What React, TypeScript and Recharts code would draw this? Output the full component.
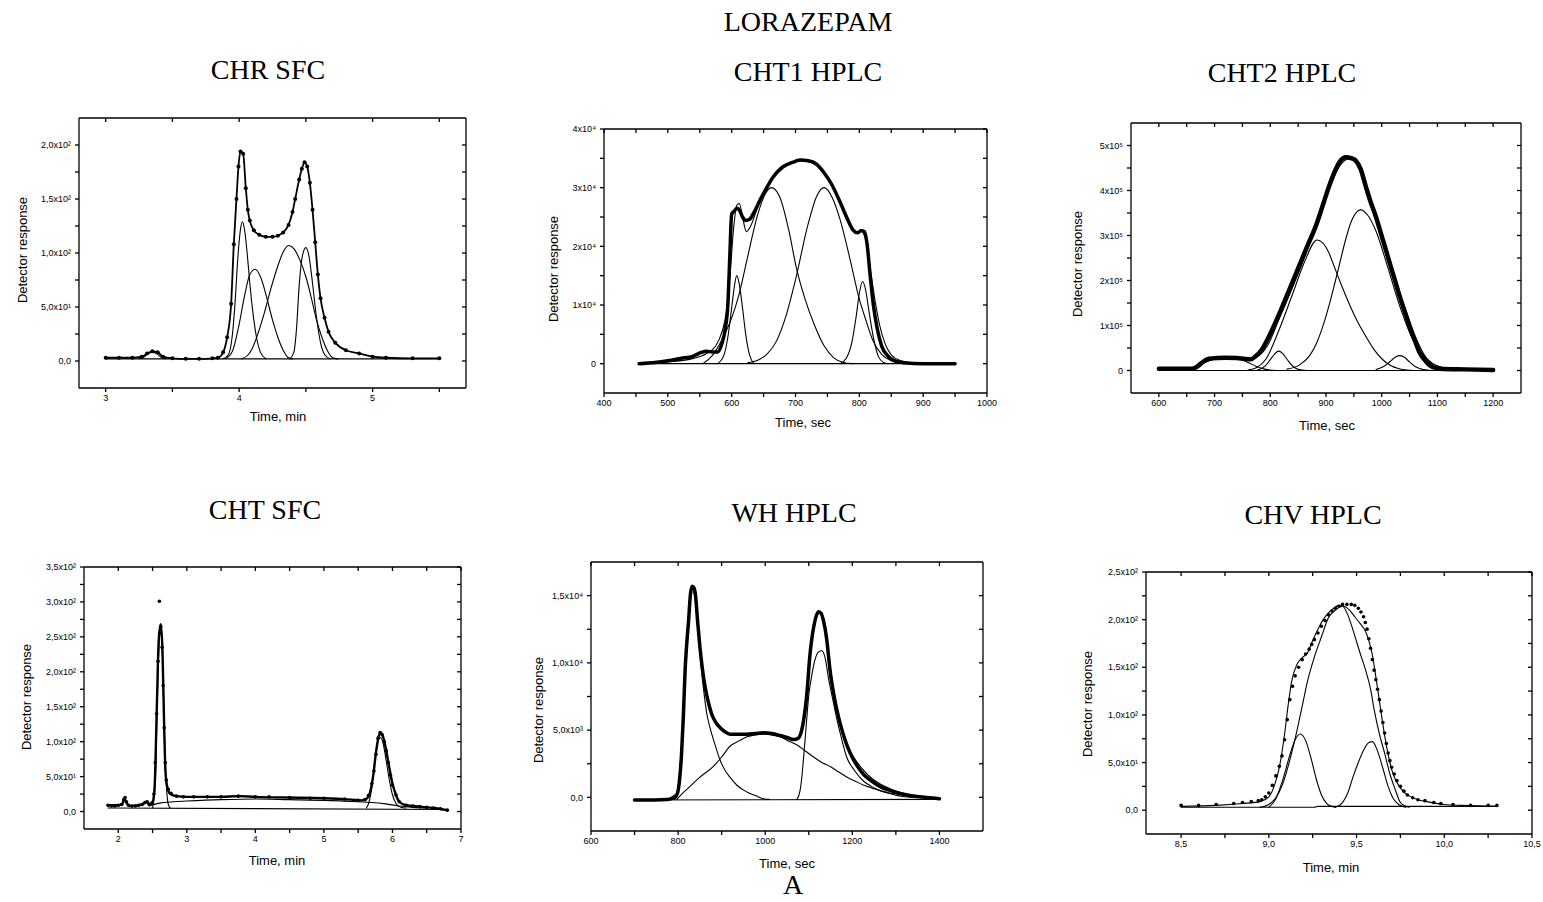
import { Line, LineChart, XAxis, YAxis } from "recharts";

type Pt = [number, number];

const SERIF = '"Liberation Serif", "Times New Roman", serif';
const SANS = '"Liberation Sans", Arial, sans-serif';

// ---------- CHR SFC (time in min) ----------
const chrExp: Pt[] = [
    [3.0, 3], [3.1, 3], [3.2, 3], [3.27, 4], [3.31, 7], [3.35, 9], [3.39, 8], [3.43, 4],
    [3.5, 2.5], [3.6, 2], [3.7, 2], [3.8, 2.5], [3.84, 3], [3.88, 8], [3.91, 22], [3.94, 53],
    [3.96, 108], [3.98, 150], [3.995, 180], [4.01, 194], [4.03, 192], [4.05, 160], [4.065, 140],
    [4.08, 130], [4.11, 121], [4.15, 117], [4.2, 115], [4.25, 115], [4.29, 116], [4.33, 119],
    [4.37, 126], [4.4, 138], [4.42, 150], [4.45, 168], [4.47, 178], [4.49, 184], [4.51, 180],
    [4.53, 165], [4.55, 140], [4.57, 110], [4.59, 80], [4.61, 58], [4.64, 40], [4.67, 27],
    [4.72, 17], [4.8, 10], [4.9, 7], [5.0, 4], [5.1, 3], [5.3, 2.5], [5.5, 2.5],
];
const chrC0: Pt[] = [[3.25, 2], [3.29, 4], [3.32, 7], [3.35, 8], [3.38, 7], [3.41, 4], [3.45, 2]];
const chrC1: Pt[] = [
    [3.88, 2], [3.92, 6], [3.95, 25], [3.97, 55], [3.99, 95], [4.01, 122], [4.025, 129], [4.04, 122],
    [4.06, 100], [4.08, 72], [4.1, 48], [4.13, 22], [4.16, 8], [4.2, 2],
];
const chrC2: Pt[] = [
    [3.9, 2], [3.95, 9], [4.0, 34], [4.04, 60], [4.08, 80], [4.12, 85], [4.16, 78], [4.2, 62],
    [4.25, 38], [4.29, 22], [4.33, 10], [4.37, 3], [4.4, 2],
];
const chrC3: Pt[] = [
    [4.02, 2], [4.07, 6], [4.1, 12], [4.14, 25], [4.19, 45], [4.24, 68], [4.29, 88], [4.33, 101],
    [4.37, 107], [4.41, 104], [4.45, 95], [4.5, 78], [4.54, 59], [4.58, 38], [4.62, 22], [4.66, 10],
    [4.7, 3], [4.74, 2],
];
const chrC4: Pt[] = [
    [4.38, 2], [4.41, 8], [4.43, 30], [4.45, 70], [4.475, 98], [4.5, 105], [4.525, 96], [4.55, 72],
    [4.58, 40], [4.61, 17], [4.64, 6], [4.68, 2],
];
const chrBase: Pt[] = [[3.0, 2], [5.5, 2]];
const chrXTicks = [3, 4, 5];
const chrXLabels = ["3", "4", "5"];
const chrXMinor = [3.5, 4.5, 5.5];
const chrYTicks = [0, 50, 100, 150, 200];
const chrYLabels = ["0,0", "5,0x10¹", "1,0x10²", "1,5x10²", "2,0x10²"];
const chrYMinor = [25, 75, 125, 175];

// ---------- CHT1 HPLC (time in sec) ----------
const cht1Exp: Pt[] = [
    [455, 0], [480, 200], [500, 500], [520, 900], [540, 1300], [552, 1900], [560, 2100], [570, 2000],
    [578, 2000], [585, 3500], [590, 6000], [594, 10000], [597, 18000], [600, 25500], [604, 26000],
    [608, 26500], [612, 26200], [617, 25000], [622, 24400], [628, 24600], [635, 25800], [645, 28000],
    [655, 30000], [665, 31800], [680, 33500], [695, 34300], [707, 34700], [720, 34600], [733, 34000],
    [745, 32500], [757, 30500], [770, 27500], [782, 24500], [790, 22800], [797, 22300], [803, 22700],
    [808, 22500], [812, 20500], [817, 15000], [822, 10000], [828, 6000], [835, 3000], [845, 1300],
    [855, 500], [870, 150], [900, 0], [950, 0],
];
const cht1Fit: Pt[] = [
    [455, 0], [500, 300], [540, 900], [560, 1700], [575, 3000], [585, 5500], [592, 9000], [598, 16000],
    [603, 23000], [608, 27000], [612, 27300], [617, 25000], [623, 22500], [630, 23500], [640, 26500],
    [650, 29000], [665, 32000], [680, 33800], [695, 34300], [710, 34600], [725, 34300], [740, 33000],
    [755, 30800], [770, 27600], [785, 23500], [795, 22300], [803, 22600], [810, 21000], [818, 15500],
    [825, 10500], [832, 6500], [840, 3500], [850, 1500], [865, 500], [885, 100], [930, 0],
];
const cht1C1: Pt[] = [
    [578, 0], [588, 1500], [594, 4500], [600, 9500], [604, 13000], [608, 15000], [612, 13500],
    [617, 9500], [622, 5000], [628, 1500], [635, 0],
];
const cht1C2: Pt[] = [
    [555, 0], [570, 1400], [589, 5000], [600, 7800], [612, 12000], [625, 18200], [640, 25100],
    [652, 28800], [662, 30000], [675, 28500], [690, 22500], [701, 16500], [715, 11000], [730, 6500],
    [745, 3000], [760, 1000], [775, 200], [790, 0],
];
const cht1C3: Pt[] = [
    [625, 150], [640, 550], [655, 1600], [670, 3800], [685, 8100], [700, 14300], [720, 23900],
    [733, 28500], [745, 30000], [758, 28200], [770, 24500], [785, 18000], [800, 11000], [810, 7500],
    [821, 4000], [835, 1600], [850, 500], [870, 0],
];
const cht1C4: Pt[] = [
    [770, 0], [780, 1000], [788, 3500], [795, 8000], [800, 12000], [805, 14000], [810, 12500],
    [815, 9000], [822, 4500], [830, 1200], [838, 200], [845, 0],
];
const cht1Base: Pt[] = [[455, 0], [950, 0]];
const cht1XTicks = [400, 500, 600, 700, 800, 900, 1000];
const cht1XLabels = ["400", "500", "600", "700", "800", "900", "1000"];
const cht1XMinor = [450, 550, 650, 750, 850, 950];
const cht1YTicks = [0, 10000, 20000, 30000, 40000];
const cht1YLabels = ["0", "1x10⁴", "2x10⁴", "3x10⁴", "4x10⁴"];
const cht1YMinor = [5000, 15000, 25000, 35000];

// ---------- CHT2 HPLC (time in sec) ----------
const cht2Exp: Pt[] = [
    [600, 4000], [660, 4000], [668, 8000], [673, 13000], [680, 20000], [690, 26000], [705, 28000],
    [720, 28500], [740, 28000], [755, 25500], [765, 25000], [774, 32000], [784, 45000], [792, 62000],
    [805, 95000], [822, 143000], [837, 188000], [852, 233000], [867, 278000], [882, 322000],
    [895, 370000], [906, 411000], [915, 440000], [924, 463000], [936, 474000], [945, 472000],
    [953, 467000], [962, 448000], [971, 411000], [980, 375000], [989, 344000], [998, 307000],
    [1007, 270000], [1016, 232000], [1025, 195000], [1034, 158000], [1043, 125000], [1052, 90000],
    [1061, 62000], [1068, 40000], [1076, 25000], [1084, 14000], [1091, 8000], [1105, 4000],
    [1150, 2500], [1200, 1000],
];
const cht2Fit: Pt[] = [
    [600, 3000], [665, 5000], [680, 16000], [700, 25000], [720, 27500], [745, 27000], [765, 26000],
    [780, 33000], [795, 55000], [816, 115000], [840, 185000], [861, 250000], [884, 330000],
    [906, 405000], [925, 455000], [940, 470000], [955, 463000], [971, 415000], [990, 340000],
    [1010, 262000], [1030, 180000], [1050, 110000], [1065, 62000], [1080, 28000], [1095, 10000],
    [1120, 3000], [1200, 1000],
];
const cht2C0: Pt[] = [
    [655, 0], [665, 2000], [672, 8000], [685, 20000], [700, 26000], [720, 27500], [740, 26000],
    [760, 18000], [775, 9000], [790, 3000], [805, 500], [820, 0],
];
const cht2C1: Pt[] = [
    [775, 0], [790, 9000], [800, 24000], [808, 37000], [815, 43000], [822, 38000], [830, 25000],
    [840, 10000], [852, 2000], [865, 0],
];
const cht2C2: Pt[] = [
    [760, 1000], [775, 6000], [792, 25000], [816, 91000], [840, 170000], [861, 240000], [884, 290000],
    [905, 262000], [912, 240000], [926, 195000], [941, 150000], [956, 110000], [971, 77000],
    [986, 47000], [1001, 25000], [1016, 11000], [1031, 4000], [1045, 1000], [1060, 0],
];
const cht2C3: Pt[] = [
    [830, 3000], [852, 12000], [870, 32000], [882, 58000], [894, 97000], [906, 147000], [916, 195000],
    [925, 240000], [935, 290000], [945, 330000], [955, 352000], [962, 357000], [975, 345000],
    [990, 309000], [1010, 233000], [1030, 152000], [1050, 85000], [1070, 41000], [1090, 17000],
    [1110, 6000], [1130, 1000],
];
const cht2C4: Pt[] = [
    [990, 2000], [1005, 10000], [1015, 20000], [1025, 30000], [1032, 33000], [1040, 30000],
    [1050, 19000], [1060, 9000], [1075, 2000], [1090, 0],
];
const cht2Base: Pt[] = [[600, 0], [1200, 0]];
const cht2XTicks = [600, 700, 800, 900, 1000, 1100, 1200];
const cht2XLabels = ["600", "700", "800", "900", "1000", "1100", "1200"];
const cht2XMinor = [650, 750, 850, 950, 1050, 1150];
const cht2YTicks = [0, 100000, 200000, 300000, 400000, 500000];
const cht2YLabels = ["0", "1x10⁵", "2x10⁵", "3x10⁵", "4x10⁵", "5x10⁵"];
const cht2YMinor = [50000, 150000, 250000, 350000, 450000];

// ---------- CHT SFC (time in min) ----------
const chtExp: Pt[] = [
    [1.85, 9], [1.9, 8], [1.95, 8], [2.0, 9], [2.05, 10], [2.08, 17], [2.1, 20], [2.12, 14], [2.15, 9],
    [2.2, 8], [2.25, 8], [2.3, 9], [2.35, 10], [2.39, 13], [2.42, 14], [2.45, 10], [2.49, 12],
    [2.52, 25], [2.54, 70], [2.56, 140], [2.58, 215], [2.6, 301], [2.605, 255], [2.62, 265],
    [2.64, 235], [2.655, 180], [2.67, 120], [2.685, 70], [2.7, 45], [2.73, 32], [2.77, 26],
    [2.85, 22], [2.95, 21], [3.1, 21], [3.3, 21], [3.5, 21], [3.75, 22], [4.0, 21], [4.2, 21],
    [4.5, 20], [4.8, 19], [5.0, 19], [5.3, 18], [5.5, 16], [5.6, 17], [5.65, 23], [5.7, 40],
    [5.73, 58], [5.76, 82], [5.79, 105], [5.82, 113], [5.85, 110], [5.88, 100], [5.91, 87],
    [5.94, 70], [5.97, 52], [6.0, 38], [6.05, 24], [6.1, 14], [6.2, 9], [6.3, 8], [6.4, 7],
    [6.5, 6], [6.6, 5], [6.7, 4], [6.8, 2],
];
const chtFit: Pt[] = [
    [1.85, 9], [2.0, 9], [2.06, 11], [2.09, 19], [2.12, 12], [2.18, 8], [2.3, 9], [2.38, 12],
    [2.42, 14], [2.46, 10], [2.5, 13], [2.53, 35], [2.56, 140], [2.59, 245], [2.62, 268],
    [2.645, 230], [2.67, 120], [2.69, 55], [2.72, 33], [2.76, 25], [2.85, 22], [3.0, 21], [3.5, 21],
    [3.75, 22], [4.0, 21], [4.5, 20], [5.0, 19], [5.4, 17], [5.55, 16], [5.63, 19], [5.68, 30],
    [5.72, 52], [5.76, 85], [5.8, 108], [5.83, 113], [5.86, 108], [5.9, 92], [5.95, 65], [6.0, 40],
    [6.05, 24], [6.1, 14], [6.2, 9], [6.4, 7], [6.6, 5], [6.8, 2],
];
const chtP1: Pt[] = [
    [2.5, 5], [2.54, 40], [2.57, 160], [2.6, 250], [2.62, 266], [2.64, 240], [2.67, 120], [2.7, 40],
    [2.73, 10], [2.76, 5],
];
const chtBroad: Pt[] = [
    [2.45, 8], [2.6, 12], [2.8, 14], [3.0, 15], [3.5, 17], [4.0, 18], [4.5, 17], [5.0, 16], [5.5, 14],
    [5.7, 13], [5.9, 11], [6.1, 8], [6.3, 6], [6.5, 5],
];
const chtP2: Pt[] = [
    [5.62, 5], [5.66, 14], [5.7, 35], [5.74, 70], [5.78, 98], [5.82, 106], [5.86, 99], [5.9, 78],
    [5.95, 48], [6.0, 24], [6.05, 12], [6.12, 6], [6.2, 5],
];
const chtBase: Pt[] = [[1.85, 5], [6.8, 3]];
const chtXTicks = [2, 3, 4, 5, 6, 7];
const chtXLabels = ["2", "3", "4", "5", "6", "7"];
const chtXMinor = [2.5, 3.5, 4.5, 5.5, 6.5];
const chtYTicks = [0, 50, 100, 150, 200, 250, 300, 350];
const chtYLabels = ["0,0", "5,0x10¹", "1,0x10²", "1,5x10²", "2,0x10²", "2,5x10²", "3,0x10²", "3,5x10²"];
const chtYMinor = [25, 75, 125, 175, 225, 275, 325];

// ---------- WH HPLC (time in sec) ----------
const whExp: Pt[] = [
    [700, -200], [775, -150], [797, 200], [803, 1200], [808, 3300], [812, 6000], [816, 9400],
    [820, 11500], [824, 13100], [828, 15000], [832, 15700], [836, 15600], [840, 15000], [845, 13000],
    [850, 11200], [856, 9500], [862, 8200], [870, 7000], [877, 6200], [886, 5600], [896, 5200],
    [907, 4900], [919, 4700], [940, 4700], [958, 4700], [977, 4750], [996, 4800], [1015, 4750],
    [1034, 4600], [1050, 4450], [1065, 4300], [1076, 4400], [1083, 4900], [1088, 5700], [1095, 7500],
    [1103, 10700], [1112, 12800], [1122, 13800], [1128, 13700], [1134, 13100], [1141, 11800],
    [1149, 9400], [1160, 7200], [1172, 5500], [1184, 4200], [1195, 3300], [1210, 2400], [1226, 1700],
    [1245, 1200], [1264, 800], [1283, 550], [1302, 350], [1320, 220], [1340, 100], [1370, 0],
    [1400, -100],
];
const whFit: Pt[] = [
    [700, -200], [790, -150], [800, 800], [808, 3300], [816, 9400], [824, 13100], [832, 15500],
    [840, 14800], [850, 11000], [862, 8000], [877, 6100], [896, 5200], [919, 4700], [958, 4650],
    [996, 4750], [1034, 4550], [1065, 4250], [1078, 4400], [1088, 5600], [1097, 8000], [1106, 11200],
    [1116, 13200], [1125, 13700], [1134, 13000], [1145, 10800], [1155, 8400], [1164, 6800],
    [1175, 5300], [1187, 4000], [1207, 2800], [1226, 2000], [1245, 1400], [1264, 1000], [1283, 700],
    [1302, 450], [1340, 150], [1378, 0], [1400, -100],
];
const whC1: Pt[] = [
    [790, -150], [797, 0], [805, 2500], [812, 6000], [820, 11500], [828, 15000], [833, 15500],
    [838, 15000], [845, 12700], [852, 10000], [860, 7600], [866, 6200], [873, 5200], [885, 3900],
    [896, 2800], [908, 2000], [919, 1500], [935, 900], [958, 400], [980, 100], [996, -100], [1010, -150],
];
const whC2: Pt[] = [
    [797, -150], [810, 300], [827, 800], [850, 1500], [881, 2300], [900, 3000], [919, 3800],
    [940, 4200], [958, 4500], [977, 4650], [996, 4700], [1015, 4650], [1034, 4500], [1053, 4200],
    [1073, 3900], [1092, 3450], [1111, 3000], [1130, 2600], [1149, 2300], [1168, 1900], [1188, 1500],
    [1207, 1200], [1226, 900], [1245, 700], [1264, 500], [1283, 350], [1302, 250], [1340, 100],
    [1378, 0],
];
const whC3: Pt[] = [
    [1073, -150], [1080, 500], [1084, 1500], [1090, 3700], [1095, 5700], [1100, 7600], [1106, 8900],
    [1114, 10200], [1122, 10800], [1130, 10900], [1138, 10300], [1145, 8900], [1155, 7300],
    [1164, 5900], [1175, 4400], [1187, 3000], [1205, 2000], [1226, 1200], [1245, 800], [1264, 500],
    [1283, 300], [1302, 150], [1320, 50], [1340, 0],
];
const whBase: Pt[] = [[700, -200], [1400, -150]];
const whXTicks = [600, 800, 1000, 1200, 1400];
const whXLabels = ["600", "800", "1000", "1200", "1400"];
const whXMinor = [700, 900, 1100, 1300];
const whYTicks = [0, 5000, 10000, 15000];
const whYLabels = ["0,0", "5,0x10³", "1,0x10⁴", "1,5x10⁴"];
const whYMinor = [2500, 7500, 12500];

// ---------- CHV HPLC (time in min) ----------
const chvExp: Pt[] = [
    [8.5, 5], [8.6, 5], [8.7, 6], [8.8, 7], [8.85, 8], [8.9, 9], [8.94, 10], [8.96, 11], [8.98, 14],
    [9.0, 18], [9.02, 26], [9.04, 36], [9.06, 46], [9.075, 57], [9.09, 74], [9.105, 95], [9.12, 116],
    [9.135, 130], [9.15, 141], [9.17, 150], [9.19, 158], [9.21, 164], [9.23, 169], [9.245, 174],
    [9.26, 179], [9.28, 186], [9.3, 193], [9.32, 199], [9.34, 205], [9.36, 209], [9.38, 212],
    [9.4, 214], [9.42, 216], [9.445, 216], [9.47, 216], [9.49, 215], [9.51, 212], [9.525, 208],
    [9.54, 203], [9.55, 197], [9.56, 190], [9.57, 180], [9.58, 170], [9.59, 158], [9.6, 147],
    [9.61, 137], [9.62, 127], [9.63, 116], [9.64, 104], [9.65, 92], [9.66, 81], [9.67, 70],
    [9.68, 60], [9.69, 52], [9.7, 45], [9.715, 38], [9.73, 31], [9.75, 25], [9.77, 20], [9.79, 16],
    [9.82, 13], [9.85, 11], [9.89, 10], [9.94, 8], [9.98, 7], [10.05, 6], [10.15, 5], [10.25, 5],
    [10.3, 5],
];
const chvFit: Pt[] = [
    [8.5, 4], [8.7, 5], [8.85, 7], [8.95, 9], [9.0, 14], [9.03, 25], [9.06, 45], [9.09, 80],
    [9.11, 110], [9.13, 135], [9.16, 153], [9.19, 160], [9.22, 165], [9.25, 178], [9.28, 190],
    [9.31, 200], [9.34, 207], [9.37, 212], [9.4, 215], [9.43, 214], [9.46, 210], [9.49, 203],
    [9.52, 196], [9.55, 188], [9.57, 178], [9.59, 163], [9.61, 140], [9.63, 115], [9.65, 90],
    [9.67, 68], [9.69, 50], [9.71, 37], [9.74, 26], [9.77, 19], [9.8, 15], [9.85, 11], [9.9, 9],
    [10.0, 6], [10.1, 5], [10.3, 4],
];
const chvC1: Pt[] = [
    [9.0, 3], [9.04, 12], [9.08, 32], [9.12, 58], [9.15, 74], [9.18, 80], [9.21, 73], [9.24, 55],
    [9.27, 33], [9.3, 16], [9.33, 7], [9.36, 4], [9.38, 3],
];
const chvC2: Pt[] = [
    [8.95, 3], [9.0, 6], [9.04, 13], [9.08, 28], [9.11, 46], [9.15, 75], [9.19, 109], [9.22, 135],
    [9.26, 161], [9.3, 182], [9.34, 202], [9.38, 210], [9.42, 214], [9.45, 205], [9.49, 183],
    [9.52, 165], [9.55, 148], [9.58, 127], [9.6, 106], [9.63, 80], [9.66, 60], [9.69, 38],
    [9.72, 22], [9.75, 8], [9.78, 4], [9.8, 3],
];
const chvC3: Pt[] = [
    [9.38, 3], [9.42, 8], [9.45, 18], [9.48, 35], [9.51, 50], [9.54, 63], [9.57, 71], [9.59, 72],
    [9.62, 62], [9.65, 44], [9.68, 25], [9.71, 12], [9.74, 6], [9.78, 3],
];
const chvBase: Pt[] = [[8.5, 3], [9.26, 3], [9.28, 4], [10.3, 4]];
const chvXTicks = [8.5, 9.0, 9.5, 10.0, 10.5];
const chvXLabels = ["8,5", "9,0", "9,5", "10,0", "10,5"];
const chvXMinor = [8.75, 9.25, 9.75, 10.25];
const chvYTicks = [0, 50, 100, 150, 200, 250];
const chvYLabels = ["0,0", "5,0x10¹", "1,0x10²", "1,5x10²", "2,0x10²", "2,5x10²"];
const chvYMinor = [25, 75, 125, 175, 225];

type Kind = "thin" | "thick" | "dots" | "dotline";
type Series = { pts: Pt[]; kind: Kind; w?: number };

type PanelSpec = {
    title: string;
    tx: number;
    ty: number;
    frame: [number, number, number, number];
    xDomain: [number, number];
    yDomain: [number, number];
    xMajor: number[];
    xLabels: string[];
    xMinor: number[];
    yMajor: number[];
    yLabels: string[];
    yMinor: number[];
    xTitle: string;
    xtx: number;
    xty: number;
    ytx: number;
    yty: number;
    series: Series[];
};

const toRows = (a: Pt[]) => a.map(([x, y]) => ({ x, y }));

const fmt = (major: number[], labels: string[]) => (v: number) => {
    const i = major.findIndex((m) => Math.abs(m - v) < 1e-6);
    return i < 0 ? "" : labels[i];
};

const tickFont = { fill: "#000", fontSize: 9, fontFamily: SANS };
const axisStroke = { stroke: "#000", strokeWidth: 1.3 };

function Panel({ p }: { p: PanelSpec }) {
    const [L, T, R, B] = p.frame;
    const yW = 70;
    const xH = 22;
    const padR = 20;
    const xt = [...p.xMajor, ...p.xMinor].sort((a, b) => a - b);
    const yt = [...p.yMajor, ...p.yMinor].sort((a, b) => a - b);

    return (
        <>
            <div style={{ position: "absolute", left: L - yW, top: T - 8 }}>
                <LineChart
                    width={R - L + yW + padR + 1}
                    height={B - T + 8 + xH}
                    margin={{ top: 7, right: padR, bottom: 0, left: 0 }}
                >
                    <XAxis
                        xAxisId="b"
                        type="number"
                        dataKey="x"
                        domain={p.xDomain}
                        allowDataOverflow
                        ticks={xt}
                        interval={0}
                        tickFormatter={fmt(p.xMajor, p.xLabels)}
                        height={xH}
                        tickSize={4}
                        tickMargin={3}
                        axisLine={axisStroke}
                        tickLine={axisStroke}
                        tick={tickFont}
                    />
                    <XAxis
                        xAxisId="t"
                        orientation="top"
                        type="number"
                        dataKey="x"
                        domain={p.xDomain}
                        allowDataOverflow
                        ticks={xt}
                        interval={0}
                        tickFormatter={() => ""}
                        height={1}
                        tickSize={-4}
                        axisLine={axisStroke}
                        tickLine={axisStroke}
                    />
                    <YAxis
                        yAxisId="l"
                        type="number"
                        domain={p.yDomain}
                        allowDataOverflow
                        ticks={yt}
                        interval={0}
                        tickFormatter={fmt(p.yMajor, p.yLabels)}
                        width={yW}
                        tickSize={4}
                        tickMargin={4}
                        axisLine={axisStroke}
                        tickLine={axisStroke}
                        tick={tickFont}
                    />
                    <YAxis
                        yAxisId="r"
                        orientation="right"
                        type="number"
                        domain={p.yDomain}
                        allowDataOverflow
                        ticks={yt}
                        interval={0}
                        tickFormatter={() => ""}
                        width={1}
                        tickSize={-4}
                        axisLine={axisStroke}
                        tickLine={axisStroke}
                    />
                    {p.series.map((s, i) => {
                        const common = {
                            xAxisId: "b",
                            yAxisId: "l",
                            data: toRows(s.pts),
                            dataKey: "y",
                            type: "monotone" as const,
                            isAnimationActive: false,
                            activeDot: false,
                            strokeLinejoin: "round" as const,
                            strokeLinecap: "round" as const,
                        };
                        if (s.kind === "dots") {
                            return (
                                <Line
                                    key={i}
                                    {...common}
                                    stroke="none"
                                    dot={{ r: 1.8, fill: "#000", stroke: "none" }}
                                />
                            );
                        }
                        if (s.kind === "dotline") {
                            return (
                                <Line
                                    key={i}
                                    {...common}
                                    stroke="#000"
                                    strokeWidth={1.8}
                                    dot={{ r: 2, fill: "#000", stroke: "none" }}
                                />
                            );
                        }
                        return (
                            <Line
                                key={i}
                                {...common}
                                stroke="#000"
                                strokeWidth={s.kind === "thick" ? s.w ?? 3.5 : 1.1}
                                dot={false}
                            />
                        );
                    })}
                </LineChart>
            </div>
            <div
                style={{
                    position: "absolute",
                    left: p.tx,
                    top: p.ty,
                    transform: "translate(-50%, -50%)",
                    fontFamily: SERIF,
                    fontSize: 28,
                    whiteSpace: "nowrap",
                    lineHeight: 1,
                }}
            >
                {p.title}
            </div>
            <div
                style={{
                    position: "absolute",
                    left: p.xtx,
                    top: p.xty,
                    transform: "translate(-50%, -50%)",
                    fontFamily: SANS,
                    fontSize: 13,
                    whiteSpace: "nowrap",
                    lineHeight: 1,
                }}
            >
                {p.xTitle}
            </div>
            <div
                style={{
                    position: "absolute",
                    left: p.ytx,
                    top: p.yty,
                    transform: "translate(-50%, -50%) rotate(-90deg)",
                    fontFamily: SANS,
                    fontSize: 13,
                    whiteSpace: "nowrap",
                    lineHeight: 1,
                }}
            >
                Detector response
            </div>
        </>
    );
}

export default function App() {
    const panels: PanelSpec[] = [
        {
            title: "CHR SFC", tx: 268, ty: 70,
            frame: [79, 118, 466, 388], xDomain: [2.8, 5.7], yDomain: [-25, 225],
            xMajor: chrXTicks, xLabels: chrXLabels, xMinor: chrXMinor,
            yMajor: chrYTicks, yLabels: chrYLabels, yMinor: chrYMinor,
            xTitle: "Time, min", xtx: 278, xty: 416, ytx: 22, yty: 250,
            series: [
                { pts: chrBase, kind: "thin" },
                { pts: chrC0, kind: "thin" },
                { pts: chrC1, kind: "thin" },
                { pts: chrC2, kind: "thin" },
                { pts: chrC3, kind: "thin" },
                { pts: chrC4, kind: "thin" },
                { pts: chrExp, kind: "dotline" },
            ],
        },
        {
            title: "CHT1 HPLC", tx: 808, ty: 72,
            frame: [604, 129, 987, 393], xDomain: [400, 1000], yDomain: [-5000, 40000],
            xMajor: cht1XTicks, xLabels: cht1XLabels, xMinor: cht1XMinor,
            yMajor: cht1YTicks, yLabels: cht1YLabels, yMinor: cht1YMinor,
            xTitle: "Time, sec", xtx: 803, xty: 422, ytx: 553, yty: 269,
            series: [
                { pts: cht1Base, kind: "thin" },
                { pts: cht1C1, kind: "thin" },
                { pts: cht1C2, kind: "thin" },
                { pts: cht1C3, kind: "thin" },
                { pts: cht1C4, kind: "thin" },
                { pts: cht1Fit, kind: "thin" },
                { pts: cht1Exp, kind: "thick", w: 3.5 },
            ],
        },
        {
            title: "CHT2 HPLC", tx: 1282, ty: 73,
            frame: [1131, 123, 1521, 393], xDomain: [550, 1250], yDomain: [-50000, 550000],
            xMajor: cht2XTicks, xLabels: cht2XLabels, xMinor: cht2XMinor,
            yMajor: cht2YTicks, yLabels: cht2YLabels, yMinor: cht2YMinor,
            xTitle: "Time, sec", xtx: 1327, xty: 425, ytx: 1077, yty: 264,
            series: [
                { pts: cht2Base, kind: "thin" },
                { pts: cht2C0, kind: "thin" },
                { pts: cht2C1, kind: "thin" },
                { pts: cht2C2, kind: "thin" },
                { pts: cht2C3, kind: "thin" },
                { pts: cht2C4, kind: "thin" },
                { pts: cht2Fit, kind: "thin" },
                { pts: cht2Exp, kind: "thick", w: 4.5 },
            ],
        },
        {
            title: "CHT SFC", tx: 265, ty: 510,
            frame: [84, 567, 461, 829], xDomain: [1.5, 7], yDomain: [-25, 350],
            xMajor: chtXTicks, xLabels: chtXLabels, xMinor: chtXMinor,
            yMajor: chtYTicks, yLabels: chtYLabels, yMinor: chtYMinor,
            xTitle: "Time, min", xtx: 277, xty: 860, ytx: 26, yty: 697,
            series: [
                { pts: chtBase, kind: "thin" },
                { pts: chtBroad, kind: "thin" },
                { pts: chtP1, kind: "thin" },
                { pts: chtP2, kind: "thin" },
                { pts: chtFit, kind: "thick", w: 2.4 },
                { pts: chtExp, kind: "dots" },
            ],
        },
        {
            title: "WH HPLC", tx: 794, ty: 513,
            frame: [591, 562, 983, 831], xDomain: [600, 1500], yDomain: [-2500, 17500],
            xMajor: whXTicks, xLabels: whXLabels, xMinor: whXMinor,
            yMajor: whYTicks, yLabels: whYLabels, yMinor: whYMinor,
            xTitle: "Time, sec", xtx: 787, xty: 863, ytx: 538, yty: 710,
            series: [
                { pts: whBase, kind: "thin" },
                { pts: whC1, kind: "thin" },
                { pts: whC2, kind: "thin" },
                { pts: whC3, kind: "thin" },
                { pts: whFit, kind: "thin" },
                { pts: whExp, kind: "thick", w: 3.5 },
            ],
        },
        {
            title: "CHV HPLC", tx: 1313, ty: 515,
            frame: [1146, 572, 1532, 834], xDomain: [8.3, 10.5], yDomain: [-25, 250],
            xMajor: chvXTicks, xLabels: chvXLabels, xMinor: chvXMinor,
            yMajor: chvYTicks, yLabels: chvYLabels, yMinor: chvYMinor,
            xTitle: "Time, min", xtx: 1331, xty: 867, ytx: 1087, yty: 704,
            series: [
                { pts: chvBase, kind: "thin" },
                { pts: chvC1, kind: "thin" },
                { pts: chvC2, kind: "thin" },
                { pts: chvC3, kind: "thin" },
                { pts: chvFit, kind: "thin", w: 1.3 },
                { pts: chvExp, kind: "dots" },
            ],
        },
    ];

    return (
        <div
            style={{
                position: "absolute",
                left: 0,
                top: 0,
                width: 1543,
                height: 902,
                background: "#fff",
                color: "#000",
                overflow: "hidden",
            }}
        >
            <div
                style={{
                    position: "absolute",
                    left: 808,
                    top: 22,
                    transform: "translate(-50%, -50%)",
                    fontFamily: SERIF,
                    fontSize: 28,
                    lineHeight: 1,
                }}
            >
                LORAZEPAM
            </div>
            {panels.map((p) => (
                <Panel key={p.title} p={p} />
            ))}
            <div
                style={{
                    position: "absolute",
                    left: 793,
                    top: 885,
                    transform: "translate(-50%, -50%)",
                    fontFamily: SERIF,
                    fontSize: 28,
                    lineHeight: 1,
                }}
            >
                A
            </div>
        </div>
    );
}
